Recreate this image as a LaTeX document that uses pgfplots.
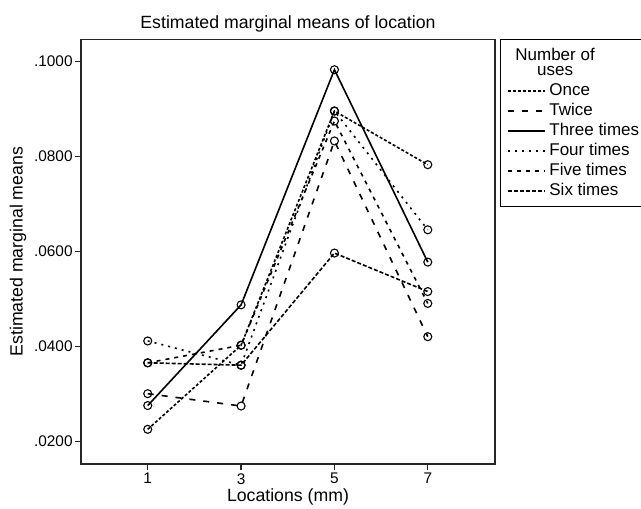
\documentclass[border=0pt]{standalone}
\usepackage{pgfplots}
\pgfplotsset{compat=1.18}
\usepackage{fontspec}
\setmainfont{Liberation Sans}
\begin{document}
\begin{tikzpicture}
\useasboundingbox (0,0) rectangle (320.5pt,254pt);
\begin{axis}[
  at={(40.5pt,22pt)}, anchor=south west,
  scale only axis, width=207pt, height=212.35pt,
  xmin=-0.43, xmax=8.44, ymin=0.0153, ymax=0.1047,
  xtick={1,3,5,7}, ytick={0.02,0.04,0.06,0.08,0.1},
  scaled y ticks=false,
  tick align=outside, xtick pos=bottom, ytick pos=left,
  major tick length=3pt,
  axis line style={line width=0.7pt, black!85},
  every tick/.style={line width=0.7pt, black!85},
  y tick label style={font=\fontsize{7.7}{9}\selectfont, inner sep=1pt, /pgf/number format/.cd, fixed, fixed zerofill, precision=4, skip 0.=true, assume math mode=true},
  x tick label style={font=\fontsize{7.7}{9}\selectfont, inner sep=1.5pt, /pgf/number format/assume math mode=true},
  title={Estimated marginal means of location},
  every axis title/.style={font=\fontsize{8.85}{10}\selectfont, at={(0.5,1)}, anchor=base, yshift=5.5pt},
  xlabel={Locations (mm)},
  xlabel style={font=\fontsize{8.85}{10}\selectfont, at={(axis description cs:0.5,-0.0777)}, anchor=center},
  ylabel={Estimated marginal means},
  ylabel style={font=\fontsize{8.85}{10}\selectfont, at={(axis description cs:-0.152,0.5)}, anchor=center, rotate=0},
  every axis plot/.append style={line width=0.8pt, black, mark=o, mark size=2pt, mark options={solid, fill=white, line width=0.55pt}},
  legend image code/.code={\draw[#1, line width=0.9pt] (0pt,0pt) -- (18.5pt,0pt);},
  legend cell align=left,
  legend style={at={(1,1)}, anchor=north west, xshift=2.5pt, draw=black, line width=0.6pt,
    font=\fontsize{8.5}{9.5}\selectfont, inner xsep=3pt, inner ysep=2pt, row sep=-1.6pt,
    /tikz/every even column/.append style={column sep=1pt}},
]
\addlegendimage{empty legend}
\addlegendentry{\hspace*{-17pt}\shortstack{Number of\\uses}}

% Once
\addplot[dash pattern=on 1.5pt off 1pt] coordinates {(1,0.0226) (3,0.0403) (5,0.0896) (7,0.0783)};
\addlegendentry{Once}
% Twice
\addplot[dash pattern=on 3pt off 4pt] coordinates {(1,0.0301) (3,0.0275) (5,0.0833) (7,0.0421)};
\addlegendentry{Twice}
% Three times
\addplot[solid] coordinates {(1,0.0276) (3,0.0488) (5,0.0983) (7,0.0578)};
\addlegendentry{Three times}
% Four times
\addplot[dash pattern=on 1pt off 2.5pt] coordinates {(1,0.0412) (3,0.0361) (5,0.0896) (7,0.0646)};
\addlegendentry{Four times}
% Five times
\addplot[dash pattern=on 2pt off 2.5pt] coordinates {(1,0.0366) (3,0.0403) (5,0.0875) (7,0.0491)};
\addlegendentry{Five times}
% Six times
\addplot[dash pattern=on 2pt off 1pt] coordinates {(1,0.0366) (3,0.0361) (5,0.0597) (7,0.0516)};
\addlegendentry{Six times}
\end{axis}
\end{tikzpicture}
\end{document}
